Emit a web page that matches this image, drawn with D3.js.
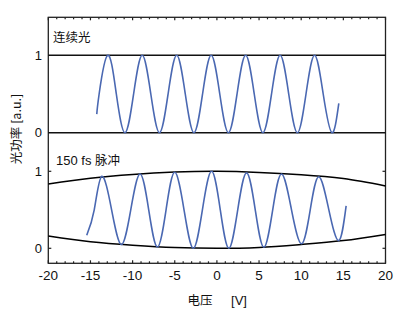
<!DOCTYPE html>
<html><head><meta charset="utf-8">
<script src="https://cdn.jsdelivr.net/npm/d3@7"></script>
<style>body{margin:0;background:#fff}</style></head>
<body><svg id="c" width="399" height="314"></svg>
<script>
// ---- data ----
const xTicks = [-20,-15,-10,-5,0,5,10,15,20];
const yTicks = [0,1];
const panelLabels = ["连续光","150 fs 脉冲"];
const xLabel = "电压", xUnit = "[V]", yLabel = "光功率  [a.u.]";

// continuous light (top panel) : [voltage, power]
const cwX = [-14.25,-13.97,-12.95,-11.93,-10.90,-9.88,-8.86,-7.84,-6.81,-5.79,-4.77,-3.75,-2.72,-1.70,-0.68,0.34,1.37,2.39,3.41,4.43,5.46,6.48,7.50,8.52,9.55,10.57,11.59,12.61,13.64,14.46];
const cwY = [0.24,0.5,1,0.5,0,0.5,1,0.5,0,0.5,1,0.5,0,0.5,1,0.5,0,0.5,1,0.5,0,0.5,1,0.5,0,0.5,1,0.5,0,0.38];

// 150 fs pulse (bottom panel)
const puX = [-15.44,-14.55,-13.65,-12.49,-11.33,-10.22,-9.12,-8.09,-7.06,-6.03,-5.01,-3.90,-2.80,-1.72,-0.63,0.40,1.42,2.47,3.52,4.55,5.57,6.62,7.67,8.85,10.04,11.07,12.09,13.28,14.46,15.33];
const puY = [0.17,0.5,0.935,0.5,0.05,0.5,0.965,0.5,0.017,0.5,0.987,0.5,0.0,0.5,1.0,0.5,0.0,0.5,0.98,0.5,0.013,0.5,0.965,0.5,0.06,0.5,0.93,0.5,0.1,0.55];

// envelope of the pulse
const envX = [-20,-15,-10,-5,0,5,10,15,20];
const envUp = [0.835,0.91,0.96,0.99,1.0,0.985,0.955,0.905,0.81];
const envLo = [0.16,0.085,0.04,0.01,0.0,0.012,0.05,0.1,0.18];

// ---- drawing ----
const svg = d3.select("#c");
const L=48.3, R=385.5, T=17.3, B=263.3;
const x = d3.scaleLinear().domain([-20,20]).range([L,R]);
const yTop = d3.scaleLinear().domain([0,1]).range([132.7,55.3]);
const yBot = d3.scaleLinear().domain([0,1]).range([248.3,171.3]);
const font = "'Liberation Sans', Arial, sans-serif";
const cjk = "'Noto Sans CJK SC', sans-serif";

// frame
svg.append("rect").attr("x",L).attr("y",T).attr("width",R-L).attr("height",B-T)
  .attr("fill","none").attr("stroke","#222").attr("stroke-width",1.3);

// minor/major ticks along bottom and top
const minor = d3.range(-20,21,1);
minor.forEach(v=>{
  const len = (v%5===0)?3:2;
  svg.append("line").attr("x1",x(v)).attr("x2",x(v)).attr("y1",B).attr("y2",B-len).attr("stroke","#222").attr("stroke-width",1.2);
  svg.append("line").attr("x1",x(v)).attr("x2",x(v)).attr("y1",T).attr("y2",T+len).attr("stroke","#222").attr("stroke-width",1.2);
});

// horizontal lines in top panel
yTicks.forEach(v=>{
  svg.append("line").attr("x1",L).attr("x2",R).attr("y1",yTop(v)).attr("y2",yTop(v)).attr("stroke","#111").attr("stroke-width",1.4);
});
// y ticks bottom panel (left and right, inward)
yTicks.forEach(v=>{
  svg.append("line").attr("x1",L).attr("x2",L+3).attr("y1",yBot(v)).attr("y2",yBot(v)).attr("stroke","#222").attr("stroke-width",1.2);
  svg.append("line").attr("x1",R).attr("x2",R-3).attr("y1",yBot(v)).attr("y2",yBot(v)).attr("stroke","#222").attr("stroke-width",1.2);
});

// y tick labels
[yTop,yBot].forEach(s=>{
  yTicks.forEach(v=>{
    svg.append("text").attr("x",42).attr("y",s(v)).attr("dy","0.36em").attr("text-anchor","end")
      .attr("font-family",font).attr("font-size",13).attr("fill","#111").text(v);
  });
});
// x tick labels
xTicks.forEach(v=>{
  svg.append("text").attr("x",x(v)).attr("y",280).attr("text-anchor","middle")
    .attr("font-family",font).attr("font-size",13.5).attr("fill","#111").text(v);
});

// envelope curves
const envLine = (arr)=>d3.line().curve(d3.curveNatural).x((d,i)=>x(envX[i])).y((d,i)=>yBot(arr[i]))(arr);
svg.append("path").attr("d",envLine(envUp)).attr("fill","none").attr("stroke","#000").attr("stroke-width",1.5);
svg.append("path").attr("d",envLine(envLo)).attr("fill","none").attr("stroke","#000").attr("stroke-width",1.5);

// waves
const blue = "#4a68b2";
const wave = (xs,ys,s)=>d3.line().curve(d3.curveNatural).x((d,i)=>x(xs[i])).y((d,i)=>s(ys[i]))(xs);
svg.append("path").attr("d",wave(cwX,cwY,yTop)).attr("fill","none").attr("stroke",blue).attr("stroke-width",1.6);
svg.append("path").attr("d",wave(puX,puY,yBot)).attr("fill","none").attr("stroke",blue).attr("stroke-width",1.6);

// panel labels
svg.append("text").attr("x",53).attr("y",42).attr("font-family",cjk).attr("font-size",12.5).attr("fill","#111").text(panelLabels[0]);
svg.append("text").attr("x",56).attr("y",165).attr("font-family",font).attr("font-size",13).attr("fill","#111")
  .text("150 fs ").append("tspan").attr("font-family",cjk).attr("font-size",12.5).text("脉冲");

// axis titles
svg.append("text").attr("x",200).attr("y",305).attr("text-anchor","middle").attr("font-family",cjk).attr("font-size",12.5).attr("fill","#111").text(xLabel);
svg.append("text").attr("x",239).attr("y",305).attr("text-anchor","middle").attr("font-family",font).attr("font-size",13).attr("fill","#111").text(xUnit);
svg.append("text").attr("transform","translate(21,129) rotate(-90)").attr("text-anchor","middle")
  .attr("font-family",cjk).attr("font-size",12.5).attr("fill","#111").text(yLabel);
</script></body></html>
